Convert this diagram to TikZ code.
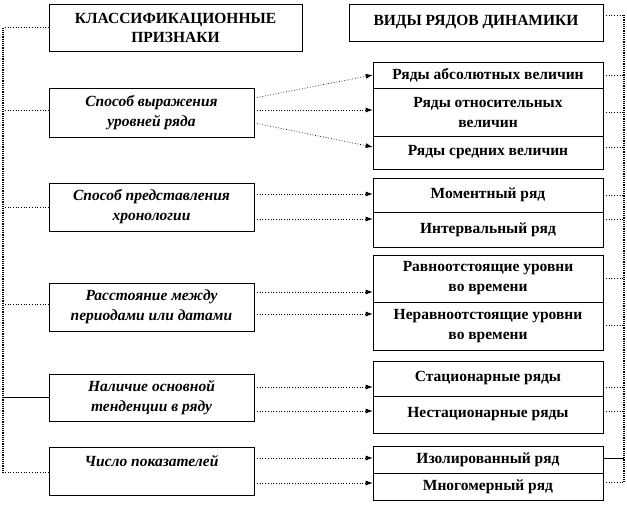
\documentclass[tikz,border=0pt]{standalone}
\usepackage{fontspec}
\setmainfont{Liberation Serif}
\usetikzlibrary{arrows.meta}
\begin{document}
\begin{tikzpicture}[x=1pt,y=-1pt,
  box/.style={draw, line width=0.6pt, align=center, inner sep=0pt},
  lbox/.style={box, font=\fontsize{15.5}{20}\selectfont\bfseries\itshape, minimum width=205pt},
  rbox/.style={box, font=\fontsize{15.5}{20}\selectfont\bfseries, minimum width=230pt},
  tbox/.style={box, font=\fontsize{15.5}{19}\selectfont\bfseries},
  arr/.style={dotted, line width=0.7pt, -{Latex[length=7pt,width=5pt]}},
  br/.style={dotted, line width=0.7pt},
  brv/.style={densely dotted, line width=1.2pt}]
\useasboundingbox (0,0) rectangle (627,504);
% titles
\node[tbox, minimum width=253pt, minimum height=47pt] (l0) at (175.5,27.5) {КЛАССИФИКАЦИОННЫЕ\\ПРИЗНАКИ};
\node[tbox, minimum width=254pt, minimum height=37pt] (r0) at (476,22.5) {ВИДЫ РЯДОВ ДИНАМИКИ};
% left boxes
\node[lbox, minimum height=49pt] (l1) at (151.5,112.5) {Способ выражения\\уровней ряда};
\node[lbox, minimum height=48pt] (l2) at (151.5,207) {Способ представления\\хронологии};
\node[lbox, minimum height=48pt] (l3) at (151.5,307) {Расстояние между\\периодами или датами};
\node[lbox, minimum height=47pt] (l4) at (151.5,397.5) {Наличие основной\\тенденции в ряду};
\node[lbox, minimum height=48pt] (l5) at (151.5,471) {Число показателей\\\mbox{}};
% right boxes
\node[rbox, minimum height=26pt] (r11) at (488,75) {Ряды абсолютных величин};
\node[rbox, minimum height=48pt] (r12) at (488,112) {Ряды относительных\\величин};
\node[rbox, minimum height=33pt] (r13) at (488,152.5) {Ряды средних величин};
\node[rbox, minimum height=34pt] (r21) at (488,195) {Моментный ряд};
\node[rbox, minimum height=35pt] (r22) at (488,229.5) {Интервальный ряд};
\node[rbox, minimum height=47pt] (r31) at (488,278.5) {Равноотстоящие уровни\\во времени};
\node[rbox, minimum height=48pt] (r32) at (488,326) {Неравноотстоящие уровни\\во времени};
\node[rbox, minimum height=35pt] (r41) at (488,378.5) {Стационарные ряды};
\node[rbox, minimum height=37pt] (r42) at (488,414.5) {Нестационарные ряды};
\node[rbox, minimum height=27pt] (r51) at (488,459.5) {Изолированный ряд};
\node[rbox, minimum height=27pt] (r52) at (488,486.5) {Многомерный ряд};
% arrows
\draw[arr] (l1.east |- 0,98) -- (r11.west);
\draw[arr] (l1.east |- 0,110) -- (r12.west |- 0,110);
\draw[arr] (l1.east |- 0,123) -- (r13.west |- 0,147);
\draw[arr] (l2.east |- 0,194) -- (r21.west |- 0,194);
\draw[arr] (l2.east |- 0,219) -- (r22.west |- 0,219);
\draw[arr] (l3.east |- 0,292) -- (r31.west |- 0,292);
\draw[arr] (l3.east |- 0,314) -- (r32.west |- 0,314);
\draw[arr] (l4.east |- 0,387) -- (r41.west |- 0,387);
\draw[arr] (l4.east |- 0,411) -- (r42.west |- 0,411);
\draw[arr] (l5.east |- 0,458) -- (r51.west |- 0,458);
\draw[arr] (l5.east |- 0,483) -- (r52.west |- 0,483);
% left bracket
\coordinate (lt) at (3,27.5);
\coordinate (lb) at (3,472);
\draw[brv] (lt) -- (lb);
\draw[br] (l0.west) -- (lt);
\draw[br] (l1.west |- 0,110) -- (lt |- 0,110);
\draw[br] (l2.west) -- (lt |- l2.west);
\draw[br] (l3.west |- 0,304) -- (lt |- 0,304);
\draw[line width=0.7pt] (l4.west) -- (lt |- l4.west);
\draw[br] (l5.west |- lb) -- (lb);
% right bracket
\coordinate (rt) at (624,15);
\coordinate (rb) at (624,482);
\draw[brv] (rt) -- (rb);
\draw[br] (r0.east |- rt) -- (rt);
\draw[br] (r11.east) -- (rt |- r11.east);
\draw[br] (r12.east) -- (rt |- r12.east);
\draw[br] (r13.east |- 0,147) -- (rt |- 0,147);
\draw[br] (r21.east) -- (rt |- r21.east);
\draw[br] (r22.east |- 0,219) -- (rt |- 0,219);
\draw[br] (r31.east) -- (rt |- r31.east);
\draw[br] (r32.east |- 0,325) -- (rt |- 0,325);
\draw[br] (r41.east |- 0,387) -- (rt |- 0,387);
\draw[br] (r42.east |- 0,411) -- (rt |- 0,411);
\draw[line width=0.7pt] (r51.east |- 0,458) -- (rt |- 0,458);
\draw[br] (r52.east |- rb) -- (rb);
\end{tikzpicture}
\end{document}
